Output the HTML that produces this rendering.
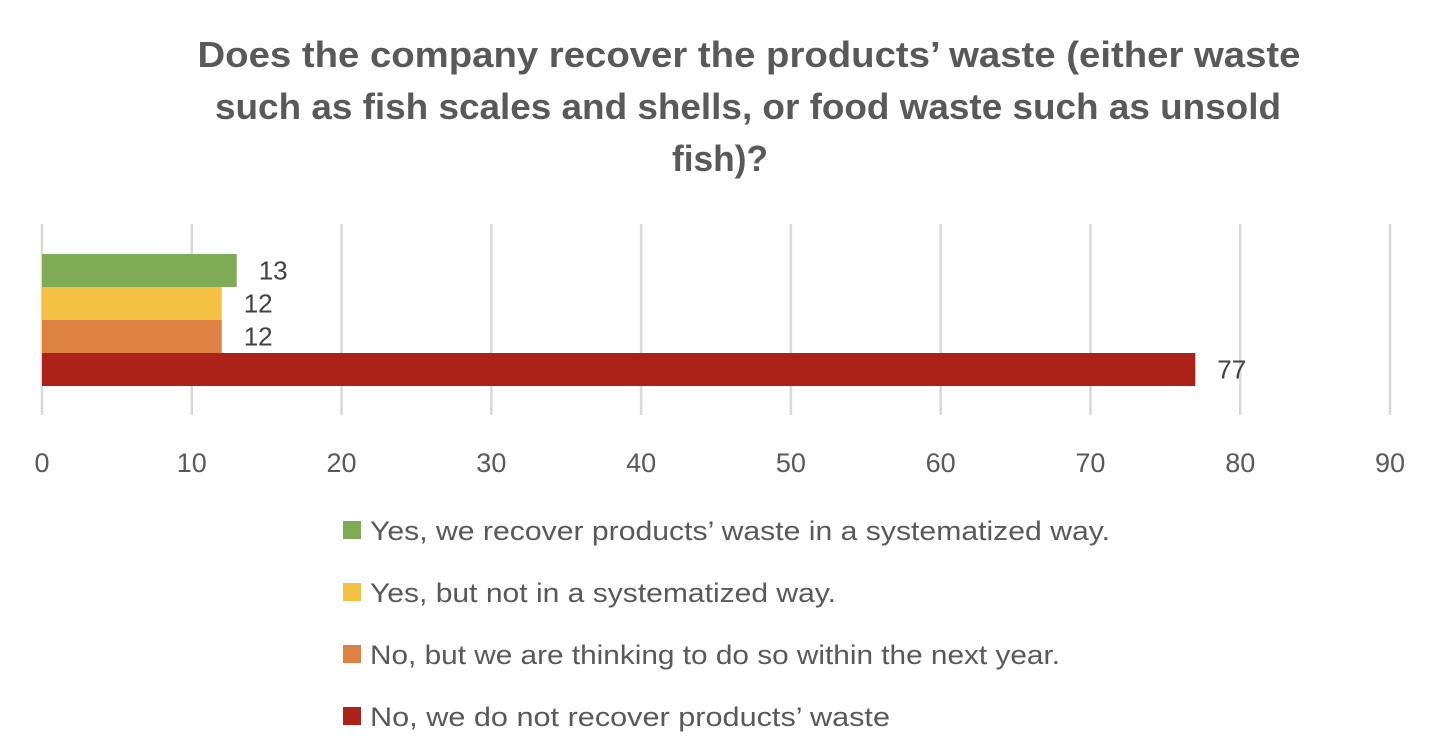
<!DOCTYPE html>
<html><head><meta charset="utf-8"><style>
html,body{margin:0;padding:0;background:#fff;}
svg{display:block;font-family:"Liberation Sans",sans-serif;}
</style></head><body>
<svg id="chart" width="1440" height="756" viewBox="0 0 1440 756" xmlns="http://www.w3.org/2000/svg">
<g fill="#595959" font-weight="bold" font-size="36" text-anchor="middle">
<text x="749" y="67" textLength="1103" lengthAdjust="spacingAndGlyphs">Does the company recover the products’ waste (either waste</text>
<text x="748" y="119" textLength="1066" lengthAdjust="spacingAndGlyphs">such as fish scales and shells, or food waste such as unsold</text>
<text x="720" y="171" textLength="96" lengthAdjust="spacingAndGlyphs">fish)?</text>
</g>
<g id="grid"></g>
<g id="bars"></g>
<g id="ticks"></g>
<g id="legend"></g>
</svg>
<script>
const categories = ["Yes, we recover products’ waste in a systematized way.","Yes, but not in a systematized way.","No, but we are thinking to do so within the next year.","No, we do not recover products’ waste"];
const values = [13, 12, 12, 77];
const colors = ["#7fab56","#f4c143","#de8244","#ad2218"];
const tickLabels = [0,10,20,30,40,50,60,70,80,90];
const legendWidths = [740, 466, 690, 520];

const NS="http://www.w3.org/2000/svg";
const x0=42, x1=1390, maxV=90;
const xs=v=>x0+(v/maxV)*(x1-x0);
const barTop=254, barH=33;
function mk(tag,attrs,parent,txt){const e=document.createElementNS(NS,tag);for(const k in attrs)e.setAttribute(k,attrs[k]);if(txt!==undefined)e.textContent=txt;parent.appendChild(e);return e;}
const grid=document.getElementById('grid'),bars=document.getElementById('bars'),ticks=document.getElementById('ticks'),legend=document.getElementById('legend');
tickLabels.forEach(t=>{
  const l=mk('line',{x1:xs(t),x2:xs(t),y1:224,y2:415,stroke:'#d9d9d9','stroke-width':2.5},grid);
  
  
  const tx=mk('text',{x:xs(t),y:472,'text-anchor':'middle','font-size':27,fill:'#595959'},ticks,String(t));
  
  
});
values.forEach((v,i)=>{
  const y=barTop+i*barH;
  const r=mk('rect',{x:x0,y:y,width:xs(v)-x0,height:barH,fill:colors[i]},bars);
  
  
  const t=mk('text',{x:xs(v)+22,y:y+barH/2+9,'font-size':26,fill:'#404040'},bars,String(v));
  
  
});
categories.forEach((c,i)=>{
  const cy=530+i*62;
  const g=mk('g',{},legend);
  
  
  mk('rect',{x:343,y:cy-9,width:18,height:18,fill:colors[i]},g);
  mk('text',{x:370,y:cy+10,'font-size':27,fill:'#595959',textLength:legendWidths[i],lengthAdjust:'spacingAndGlyphs'},g,c);
});
</script>
</body></html>
